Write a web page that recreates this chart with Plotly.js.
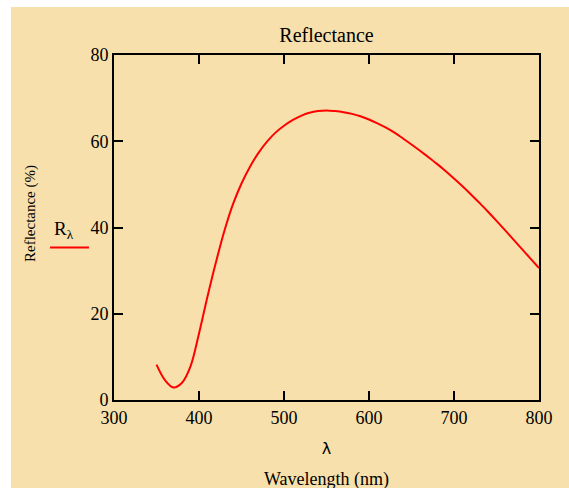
<!DOCTYPE html>
<html>
<head>
<meta charset="utf-8">
<script src="https://cdn.plot.ly/plotly-3.0.1.min.js"></script>
<style>
  html, body { margin: 0; padding: 0; background: #ffffff; }
  #chart { position: absolute; left: 11px; top: 7px; width: 558px; height: 481px; }
</style>
</head>
<body>
<div id="chart"></div>
<script>
// Wavelength (nm)
const wavelength = [350, 360, 370, 380, 390, 400, 410, 420, 430, 440,
                    450, 460, 470, 480, 490, 500, 510, 520, 530, 540,
                    550, 560, 570, 580, 590, 600, 610, 620, 630, 640,
                    650, 660, 670, 680, 690, 700, 710, 720, 730, 740,
                    750, 760, 770, 780, 790, 800];
// Reflectance (%)
const reflectance = [8.2, 4.6, 2.9, 4.0, 7.8, 15.4, 24.0, 32.0, 39.3, 45.4,
                     50.2, 54.1, 57.3, 59.9, 62.0, 63.6, 64.9, 65.9, 66.6, 67.0,
                     67.15, 67.0, 66.75, 66.35, 65.8, 65.05, 64.15, 63.15, 62.0, 60.65,
                     59.25, 57.8, 56.3, 54.75, 53.1, 51.35, 49.55, 47.65, 45.7, 43.65,
                     41.55, 39.4, 37.2, 35.0, 32.8, 30.6];
const xTicks = [300, 400, 500, 600, 700, 800];
const yTicks = [0, 20, 40, 60, 80];

const bg = '#F7E0AB';
const serif = 'Liberation Serif, Times New Roman, serif';

const trace = {
  x: wavelength,
  y: reflectance,
  type: 'scatter',
  mode: 'lines',
  name: 'R<sub>λ</sub>',
  line: { color: '#ff0000', width: 2, shape: 'spline', smoothing: 1 },
  showlegend: false,
  hoverinfo: 'skip'
};

const axisCommon = {
  showline: true, linecolor: '#000', linewidth: 2,
  ticks: 'inside', ticklen: 9, tickwidth: 2, tickcolor: '#000',
  mirror: 'allticks', showgrid: false, zeroline: false,
  tickfont: { family: serif, size: 18, color: '#000' },
  fixedrange: true
};

const layout = {
  width: 558, height: 481,
  paper_bgcolor: bg, plot_bgcolor: bg,
  margin: { l: 103, r: 30, t: 48, b: 88 },
  font: { family: serif, color: '#000' },
  title: {
    text: 'Reflectance',
    font: { family: serif, size: 20, color: '#000' },
    x: 0.5, xref: 'paper', xanchor: 'center',
    y: 1 - 28 / 481, yref: 'container', yanchor: 'middle'
  },
  xaxis: Object.assign({}, axisCommon, {
    range: [300, 800], tickvals: xTicks, ticktext: xTicks.map(String),
    title: { text: 'λ', font: { family: 'DejaVu Sans, sans-serif', size: 16, color: '#000' }, standoff: 16 }
  }),
  yaxis: Object.assign({}, axisCommon, {
    range: [0, 80], tickvals: yTicks, ticktext: yTicks.map(String)
  }),
  annotations: [
    {
      text: 'Wavelength (nm)', xref: 'paper', yref: 'paper',
      x: 0.5, y: -(479 - 400) / 345, xanchor: 'center', yanchor: 'middle',
      showarrow: false, font: { family: serif, size: 18, color: '#000' }
    },
    {
      text: 'Reflectance (%)', xref: 'paper', yref: 'paper', textangle: -90,
      x: (30 - 114) / 425, y: (400 - 214) / 345, xanchor: 'center', yanchor: 'middle',
      showarrow: false, font: { family: serif, size: 15, color: '#000' }
    },
    {
      text: 'R<sub>λ</sub>', xref: 'paper', yref: 'paper',
      x: (64 - 114) / 425, y: (400 - 230) / 345, xanchor: 'center', yanchor: 'middle',
      showarrow: false, font: { family: serif, size: 19, color: '#000' }
    }
  ],
  shapes: [
    {
      type: 'line', xref: 'paper', yref: 'paper',
      x0: (50 - 114) / 425, x1: (89 - 114) / 425,
      y0: (400 - 247.5) / 345, y1: (400 - 247.5) / 345,
      line: { color: '#ff0000', width: 2 }
    }
  ]
};

Plotly.newPlot('chart', [trace], layout, { displayModeBar: false, staticPlot: true });
</script>
</body>
</html>
